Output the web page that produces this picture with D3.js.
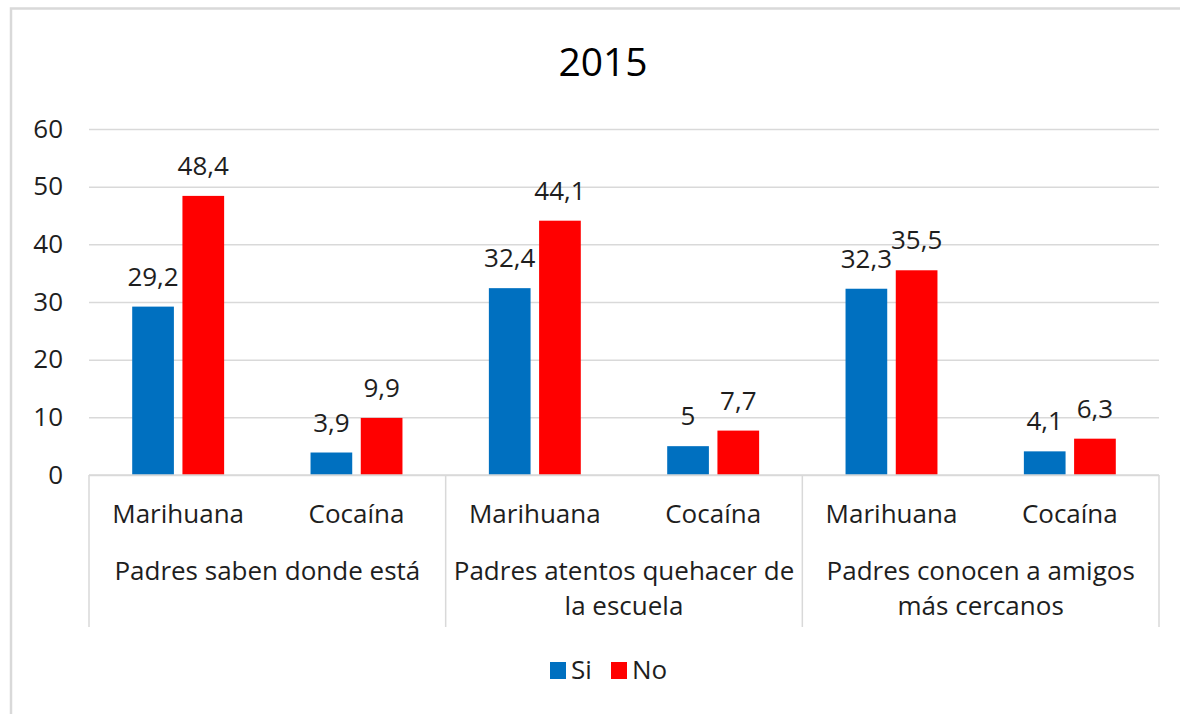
<!DOCTYPE html>
<html>
<head>
<meta charset="utf-8">
<script src="https://cdn.jsdelivr.net/npm/d3@7"></script>
<style>
  body { margin: 0; background: #fff; }
  svg text { font-family: 'Open Sans', sans-serif; fill: #1e1e1e; }
</style>
</head>
<body>
<div id="chart"></div>
<script>
// data
var groups = ['Padres saben donde está', 'Padres atentos quehacer de\nla escuela', 'Padres conocen a amigos\nmás cercanos'];
var drugs = ['Marihuana', 'Cocaína'];
var series = ['Si', 'No'];
var siValues = [29.2, 3.9, 32.4, 5, 32.3, 4.1];
var noValues = [48.4, 9.9, 44.1, 7.7, 35.5, 6.3];
var yTicks = [0, 10, 20, 30, 40, 50, 60];

var colors = { Si: '#0070c0', No: '#ff0000' };
var width = 1180, height = 714;
var margin = { top: 129, right: 21, bottom: 239, left: 89 };
var fs = '26px';

var rows = [];
groups.forEach(function (g, gi) {
  drugs.forEach(function (d, di) {
    var i = gi * drugs.length + di;
    rows.push({ group: g, drug: d, Si: siValues[i], No: noValues[i] });
  });
});

var svg = d3.select('#chart').append('svg')
  .attr('width', width)
  .attr('height', height);

// outer chart border
svg.append('rect')
  .attr('x', 11).attr('y', 8.5)
  .attr('width', 1200).attr('height', 720)
  .attr('fill', 'none')
  .attr('stroke', '#d9d9d9')
  .attr('stroke-width', 2.5);

var x0 = d3.scaleBand()
  .domain(groups)
  .range([margin.left, width - margin.right]);

var x1 = d3.scaleBand()
  .domain(drugs)
  .range([0, x0.bandwidth()]);

var x2 = d3.scaleBand()
  .domain(series)
  .range([0, x1.bandwidth()])
  .paddingInner(0.17)
  .paddingOuter(0.86);

var y = d3.scaleLinear()
  .domain([0, 60])
  .range([height - margin.bottom, margin.top]);

// title
svg.append('text')
  .attr('x', 603).attr('y', 76)
  .attr('text-anchor', 'middle')
  .style('font-size', '39px')
  .style('fill', '#000')
  .text('2015');

// gridlines + y axis
var yAxis = d3.axisLeft(y)
  .tickValues(yTicks)
  .tickSize(-(width - margin.left - margin.right))
  .tickPadding(26)
  .tickFormat(d3.format('d'));

var ga = svg.append('g')
  .attr('transform', `translate(${margin.left},0)`)
  .call(yAxis);
ga.select('.domain').remove();
ga.selectAll('.tick line').attr('stroke', '#d9d9d9').attr('stroke-width', 1.5);
ga.selectAll('.tick text')
  .style('font-size', fs)
  .style('font-family', "'Open Sans', sans-serif")
  .attr('fill', '#1e1e1e');

// bars
var cells = svg.append('g').selectAll('g.cell')
  .data(rows)
  .join('g')
  .attr('class', 'cell')
  .attr('transform', d => `translate(${x0(d.group) + x1(d.drug)},0)`);

cells.selectAll('rect.bar')
  .data(d => series.map(s => ({ key: s, value: d[s] })))
  .join('rect')
  .attr('class', 'bar')
  .attr('x', d => x2(d.key))
  .attr('width', x2.bandwidth())
  .attr('y', d => y(d.value))
  .attr('height', d => y(0) - y(d.value))
  .attr('fill', d => colors[d.key]);

cells.selectAll('text.val')
  .data(d => series.map(s => ({ key: s, value: d[s] })))
  .join('text')
  .attr('class', 'val')
  .attr('x', d => x2(d.key) + x2.bandwidth() / 2)
  .attr('y', d => y(d.value) - 21)
  .attr('text-anchor', 'middle')
  .style('font-size', fs)
  .text(d => String(d.value).replace('.', ','));

// category axis box
var axisBottom = 627;
svg.append('line')
  .attr('x1', margin.left).attr('x2', width - margin.right)
  .attr('y1', y(0)).attr('y2', y(0))
  .attr('stroke', '#d9d9d9').attr('stroke-width', 1.5);

var seps = groups.map(g => x0(g)).concat([width - margin.right]);
svg.selectAll('line.sep')
  .data(seps)
  .join('line')
  .attr('class', 'sep')
  .attr('x1', d => d).attr('x2', d => d)
  .attr('y1', y(0)).attr('y2', axisBottom)
  .attr('stroke', '#d9d9d9').attr('stroke-width', 1.5);

svg.append('g').selectAll('text.drug')
  .data(rows)
  .join('text')
  .attr('class', 'drug')
  .attr('x', d => x0(d.group) + x1(d.drug) + x1.bandwidth() / 2)
  .attr('y', 523)
  .attr('text-anchor', 'middle')
  .style('font-size', fs)
  .text(d => d.drug);

var gl = svg.append('g').selectAll('text.group')
  .data(groups)
  .join('text')
  .attr('class', 'group')
  .attr('x', d => x0(d) + x0.bandwidth() / 2)
  .attr('y', 580)
  .attr('text-anchor', 'middle')
  .style('font-size', fs);
gl.selectAll('tspan')
  .data(d => d.split('\n'))
  .join('tspan')
  .attr('x', function () { return d3.select(this.parentNode).attr('x'); })
  .attr('dy', (d, i) => i === 0 ? 0 : 35)
  .text(d => d);

// legend
var leg = svg.append('g').attr('transform', 'translate(550,662)');
var items = leg.selectAll('g.item')
  .data(series)
  .join('g')
  .attr('class', 'item')
  .attr('transform', (d, i) => `translate(${i * 61},0)`);
items.append('rect')
  .attr('width', 16).attr('height', 17)
  .attr('fill', d => colors[d]);
items.append('text')
  .attr('x', 21).attr('y', 17)
  .style('font-size', fs)
  .text(d => d);
</script>
</body>
</html>
